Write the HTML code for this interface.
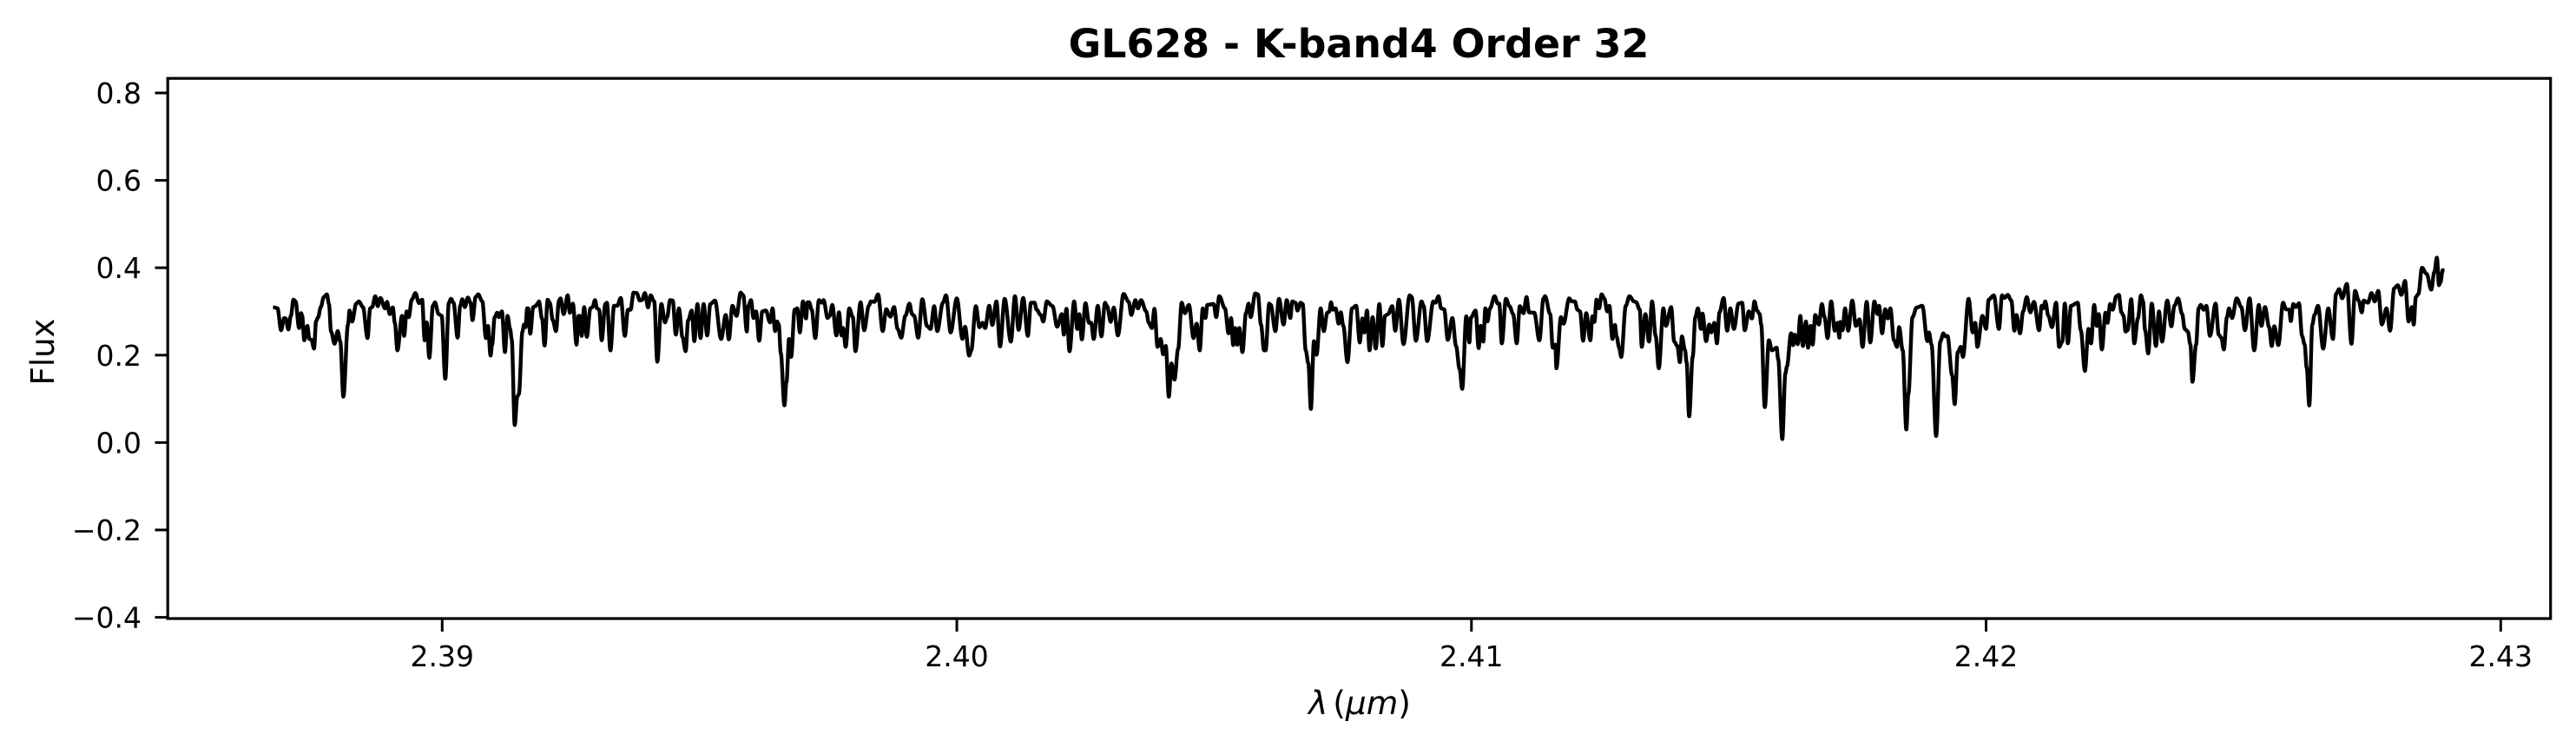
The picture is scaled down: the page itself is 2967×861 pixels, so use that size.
<!DOCTYPE html>
<html lang="en">
<head>
<meta charset="utf-8">
<title>GL628 - K-band4 Order 32</title>
<style>
html,body{margin:0;padding:0;background:#fff;}
body{width:2967px;height:861px;overflow:hidden;}
svg{display:block;font-family:"DejaVu Sans","Liberation Sans",sans-serif;}
</style>
</head>
<body>
<svg id="chart" xmlns="http://www.w3.org/2000/svg" width="2967" height="861" viewBox="0 0 2967 861">
<rect x="0" y="0" width="2967" height="861" fill="#ffffff"/>
<text x="1565" y="66" text-anchor="middle" font-size="45.83" font-weight="700" fill="#000">GL628 - K-band4 Order 32</text>
<text x="1566" y="822" text-anchor="middle" font-size="37.5" fill="#000"><tspan font-style="italic">λ</tspan><tspan dx="6">(</tspan><tspan font-style="italic">μm</tspan><tspan>)</tspan></text>
<text transform="translate(62,405) rotate(-90)" text-anchor="middle" font-size="37" fill="#000">Flux</text>
<g id="ticks"></g>
<path id="trace" fill="none" stroke="#000" stroke-width="4.4" stroke-linejoin="round" stroke-linecap="square"/>
<rect x="193.2" y="90.2" width="2744.5" height="621.8" fill="none" stroke="#000" stroke-width="3.2"/>
</svg>
<script>
const xTickValues = [2.39, 2.40, 2.41, 2.42, 2.43];
const xTickLabels = ["2.39", "2.40", "2.41", "2.42", "2.43"];
const yTickValues = [-0.4, -0.2, 0.0, 0.2, 0.4, 0.6, 0.8];
const yTickLabels = ["\u22120.4", "\u22120.2", "0.0", "0.2", "0.4", "0.6", "0.8"];
const wavelength = [
2.38675,2.38680,2.38687,2.38693,2.38696,2.38701,2.38706,2.38711,2.38715,2.38722,
2.38726,2.38728,2.38732,2.38738,2.38742,2.38746,2.38751,2.38755,2.38759,2.38764,
2.38770,2.38776,2.38780,2.38784,2.38791,2.38797,2.38802,2.38808,2.38817,2.38820,
2.38825,2.38833,2.38838,2.38846,2.38855,2.38860,2.38864,2.38870,2.38875,2.38880,
2.38889,2.38893,2.38898,2.38904,2.38908,2.38913,2.38922,2.38926,2.38931,2.38935,
2.38941,2.38948,2.38955,2.38961,2.38966,2.38970,2.38975,2.38982,2.38986,2.38993,
2.38999,2.39006,2.39013,2.39017,2.39022,2.39030,2.39035,2.39039,2.39044,2.39050,
2.39055,2.39059,2.39065,2.39070,2.39078,2.39085,2.39089,2.39094,2.39097,2.39102,
2.39107,2.39110,2.39116,2.39122,2.39127,2.39132,2.39135,2.39141,2.39146,2.39149,
2.39156,2.39159,2.39162,2.39165,2.39167,2.39171,2.39177,2.39181,2.39185,2.39188,
2.39194,2.39199,2.39205,2.39209,2.39215,2.39221,2.39227,2.39230,2.39236,2.39244,
2.39248,2.39254,2.39261,2.39265,2.39267,2.39271,2.39276,2.39281,2.39288,2.39292,
2.39297,2.39301,2.39305,2.39310,2.39317,2.39320,2.39327,2.39334,2.39340,2.39347,
2.39355,2.39361,2.39366,2.39372,2.39378,2.39384,2.39388,2.39394,2.39400,2.39405,
2.39412,2.39418,2.39426,2.39433,2.39437,2.39443,2.39448,2.39454,2.39460,2.39467,
2.39473,2.39478,2.39485,2.39490,2.39496,2.39502,2.39508,2.39515,2.39521,2.39530,
2.39542,2.39551,2.39557,2.39564,2.39572,2.39580,2.39585,
2.39592,2.39595,2.39600,2.39605,2.39610,2.39616,2.39622,2.39629,2.39637,2.39642,
2.39647,2.39651,2.39654,2.39658,2.39665,2.39669,2.39674,2.39678,2.39685,2.39690,
2.39695,2.39701,2.39707,2.39710,2.39713,2.39718,2.39725,2.39732,2.39738,2.39741,
2.39749,2.39753,2.39758,2.39766,2.39771,2.39776,2.39779,2.39784,2.39791,2.39798,
2.39803,2.39813,2.39820,2.39829,2.39833,2.39840,2.39847,2.39856,2.39863,2.39871,
2.39878,2.39885,2.39892,2.39900,2.39908,2.39913,2.39917,2.39925,2.39933,2.39942,
2.39949,2.39956,2.39962,2.39973,2.39979,2.39988,2.40000,2.40011,2.40016,2.40024,
2.40028,2.40037,2.40044,2.40050,2.40055,2.40063,2.40069,2.40077,2.40084,2.40093,
2.40105,2.40113,2.40120,2.40129,2.40138,2.40144,2.40151,2.40155,2.40163,2.40168,
2.40175,2.40186,2.40195,2.40204,2.40208,2.40213,2.40219,2.40228,2.40234,2.40238,
2.40243,2.40250,2.40257,2.40261,2.40266,2.40274,2.40281,2.40288,2.40292,2.40299,
2.40305,2.40313,2.40324,2.40334,2.40339,2.40347,2.40352,2.40358,2.40368,2.40373,
2.40379,2.40384,2.40390,2.40396,2.40401,2.40406,2.40412,2.40417,2.40423,2.40430,
2.40437,2.40443,2.40451,2.40460,2.40466,2.40472,2.40478,2.40483,2.40487,2.40499,
2.40504,2.40510,2.40521,2.40528,2.40533,2.40537,2.40541,2.40545,2.40549,2.40555,
2.40562,2.40567,
2.40571,2.40580,2.40585,2.40591,2.40597,2.40600,2.40607,2.40610,2.40619,2.40626,
2.40635,2.40641,2.40648,2.40652,2.40658,2.40662,2.40668,2.40672,2.40678,2.40683,
2.40688,2.40694,2.40699,2.40707,2.40713,2.40720,2.40724,2.40727,2.40731,2.40736,
2.40742,2.40746,2.40751,2.40759,2.40768,2.40776,2.40783,2.40788,2.40792,2.40797,
2.40802,2.40808,2.40814,2.40821,2.40827,2.40832,2.40838,2.40846,2.40852,2.40859,
2.40868,2.40880,2.40884,2.40892,2.40903,2.40907,2.40914,2.40926,2.40930,2.40936,
2.40941,2.40947,2.40954,2.40963,2.40970,2.40977,2.40982,2.40990,2.40996,2.40999,
2.41008,2.41014,2.41018,2.41023,2.41027,2.41031,2.41036,2.41045,2.41051,2.41054,
2.41059,2.41067,2.41074,2.41081,2.41088,2.41094,2.41101,2.41107,2.41112,2.41122,
2.41132,2.41140,2.41143,2.41153,2.41158,2.41163,2.41165,2.41174,2.41179,2.41190,
2.41195,2.41201,2.41206,2.41211,2.41217,2.41223,2.41231,2.41235,2.41239,2.41243,
2.41248,2.41253,2.41258,2.41264,2.41268,2.41274,2.41279,2.41282,2.41287,2.41291,
2.41300,2.41307,2.41316,2.41320,2.41327,2.41331,2.41338,2.41345,2.41351,2.41358,
2.41364,2.41373,2.41378,2.41388,2.41394,2.41400,2.41405,2.41409,2.41415,2.41418,
2.41423,2.41430,2.41435,2.41440,2.41446,2.41449,2.41456,2.41462,2.41466,2.41472,
2.41477,2.41482,2.41490,2.41497,2.41503,2.41510,2.41519,2.41526,2.41531,2.41539,
2.41545,2.41550,2.41555,2.41560,2.41563,2.41570,
2.41578,2.41584,2.41593,2.41596,2.41604,2.41610,2.41613,2.41621,2.41625,2.41628,
2.41634,2.41639,2.41644,2.41650,2.41654,2.41659,2.41663,2.41668,2.41675,2.41681,
2.41686,2.41692,2.41699,2.41706,2.41711,2.41715,2.41717,2.41721,2.41726,2.41732,
2.41740,2.41747,2.41754,2.41760,2.41768,2.41775,2.41783,2.41789,2.41792,2.41798,
2.41804,2.41809,2.41814,2.41821,2.41827,2.41831,2.41838,2.41845,2.41849,2.41857,
2.41865,2.41876,2.41886,2.41889,2.41894,2.41903,2.41911,2.41917,2.41921,2.41925,
2.41934,2.41939,2.41945,2.41951,2.41955,2.41966,2.41974,2.41979,2.41983,2.41993,
2.42000,2.42005,2.42015,2.42025,2.42031,2.42036,2.42042,2.42049,2.42055,2.42059,
2.42066,2.42072,2.42079,2.42086,2.42093,2.42103,2.42108,2.42111,2.42115,2.42121,
2.42128,2.42136,2.42142,2.42148,2.42153,2.42159,2.42165,2.42178,2.42184,
2.42192,2.42199,2.42204,2.42210,2.42215,2.42219,2.42225,2.42232,2.42236,2.42241,
2.42246,2.42253,2.42258,2.42263,2.42267,2.42271,2.42275,2.42282,2.42288,2.42295,
2.42301,2.42305,2.42309,2.42315,2.42322,2.42330,2.42336,2.42342,2.42352,2.42360,
2.42366,2.42373,2.42381,2.42386,2.42392,2.42397,2.42401,2.42408,2.42413,2.42417,
2.42423,2.42428,2.42435,2.42446,2.42452,2.42457,2.42462,2.42468,2.42472,2.42478,
2.42487,2.42496,2.42503,2.42512,2.42521,2.42530,2.42535,2.42542,2.42550,2.42555,
2.42560,2.42568,2.42577,2.42583,2.42589,2.42592,2.42597,2.42602,2.42608,2.42614,
2.42619,2.42623,2.42628,2.42634,2.42638,2.42645,2.42655,2.42665,2.42674,2.42680,
2.42686,2.42692,2.42701,2.42710,2.42717,2.42724,2.42730,2.42734,2.42742,2.42749,
2.42755,2.42762,2.42769,2.42778,2.42785,2.42793,2.42800,2.42807,2.42814,2.42821,
2.42827,2.42831,2.42835,2.42840,2.42847,2.42856,2.42865,2.42871,2.42876,2.42880,
2.42883,2.42887
];
const flux = [
.309,.307,.257,.285,.284,.259,.290,.327,.323,.262,
.296,.290,.234,.267,.237,.235,.215,.278,.287,.310,
.333,.339,.317,.254,.226,.255,.231,.105,.270,.302,
.277,.318,.323,.310,.239,.307,.310,.335,.312,.331,
.307,.322,.294,.309,.274,.211,.290,.244,.300,.287,
.327,.342,.319,.327,.234,.275,.194,.313,.321,.294,
.290,.146,.320,.329,.320,.240,.313,.328,.310,.332,
.320,.280,.333,.339,.323,.239,.267,.199,.224,.287,
.297,.287,.300,.207,.290,.260,.237,.040,.105,.111,
.254,.270,.264,.307,.307,.249,.310,.312,.317,.323,
.284,.222,.327,.320,.280,.255,.325,.330,.294,.337,
.297,.318,.224,.290,.290,.244,.310,.242,.307,.310,
.326,.307,.304,.234,.317,.320,.211,.313,.313,.331,
.244,.304,.304,.343,.342,.325,.326,.342,.309,.337,
.323,.185,.317,.275,.287,.326,.325,.247,.307,.241,
.209,.280,.302,.232,.317,.239,.317,.245,.317,.325,
.237,.292,.236,.313,.290,.343,.337,
.254,.313,.326,.285,.300,.233,.300,.302,.275,.307,
.255,.277,.270,.204,.085,.138,.237,.196,.304,.307,
.252,.323,.284,.321,.321,.304,.239,.326,.320,.326,
.285,.290,.315,.245,.298,.245,.262,.219,.307,.287,
.209,.321,.257,.313,.323,.322,.339,.255,.305,.288,
.310,.260,.240,.290,.318,.294,.290,.240,.328,.267,
.260,.312,.255,.320,.337,.252,.330,.237,.265,.199,
.211,.312,.264,.274,.262,.313,.269,.323,.220,.329,
.231,.335,.258,.331,.244,.320,.320,.304,.292,.277,
.323,.312,.265,.294,.247,.306,.209,.323,.260,.294,
.236,.319,.274,.274,.237,.313,.243,.320,.312,.276,
.309,.245,.340,.322,.292,.326,.307,.326,.300,.274,
.262,.306,.219,.237,.202,.221,.105,.181,.144,.214,
.320,.296,.315,.239,.272,.211,.307,.285,.315,.317,
.287,.335,.307,.250,.285,.223,.262,.224,.262,.207,
.297,.318,
.287,.341,.339,.270,.211,.211,.318,.315,.255,.329,
.270,.326,.285,.323,.320,.302,.320,.317,.211,.181,
.077,.232,.201,.307,.255,.297,.300,.321,.304,.307,
.272,.298,.267,.184,.307,.313,.229,.284,.252,.302,
.211,.287,.215,.317,.221,.290,.294,.312,.256,.327,
.225,.337,.333,.233,.323,.313,.232,.323,.320,.335,
.307,.305,.235,.285,.221,.168,.123,.289,.229,.286,
.302,.216,.267,.231,.307,.277,.307,.335,.318,.318,
.227,.329,.312,.294,.227,.312,.296,.333,.298,.297,
.234,.330,.335,.294,.217,.224,.170,.287,.272,.330,
.323,.323,.304,.300,.233,.296,.234,.289,.276,.327,
.307,.339,.330,.300,.313,.237,.269,.243,.217,.196,
.313,.335,.323,.321,.304,.219,.294,.231,.323,.244,
.170,.307,.267,.310,.231,.221,.184,.243,.211,.184,
.060,.197,.287,.307,.260,.295,.232,.270,.252,.274,
.227,.298,.331,.256,.307,.260,.318,.320,.257,.300,
.284,.323,.302,.294,.270,.081,
.234,.211,.217,.191,.008,.158,.174,.250,.223,.247,
.225,.290,.221,.277,.217,.267,.224,.292,.270,.317,
.287,.239,.323,.256,.274,.240,.276,.257,.307,.256,
.325,.267,.282,.219,.322,.229,.323,.294,.313,.250,
.305,.284,.307,.234,.219,.264,.211,.030,.111,.287,
.309,.313,.232,.252,.224,.015,.231,.250,.243,.244,
.154,.088,.207,.219,.196,.329,.252,.274,.219,.290,
.260,.327,.337,.260,.337,.331,.338,.325,.256,.292,
.250,.300,.333,.298,.322,.257,.313,.307,.323,.290,
.264,.320,.219,.231,.318,.227,.313,.320,.257,
.164,.260,.227,.315,.267,.294,.213,.297,.274,.317,
.304,.335,.338,.298,.290,.254,.257,.328,.227,.284,
.337,.323,.257,.204,.318,.221,.300,.231,.325,.266,
.313,.330,.294,.260,.254,.224,.139,.224,.307,.315,
.304,.313,.244,.318,.247,.240,.213,.287,.307,.285,
.330,.310,.257,.330,.211,.315,.267,.310,.264,.221,
.266,.223,.320,.305,.304,.278,.317,.310,.319,.244,
.224,.171,.085,.270,.292,.313,.215,.307,.237,.340,
.351,.330,.363,.226,.347,.325,.298,.325,.320,.342,
.323,.347,.270,.307,.256,.353,.360,.338,.370,.277,
.310,.270,.333,.340,.400,.386,.350,.390,.423,.360,
.367,.394
];

const SVG_NS = "http://www.w3.org/2000/svg";
const xScale = function (w) { return 509.3 + (w - 2.39) * 59275; };
const yScale = function (v) { return 509.4 - v * 503; };

const ticks = document.getElementById("ticks");
xTickValues.forEach(function (v, i) {
  const px = xScale(v);
  const line = document.createElementNS(SVG_NS, "line");
  
  
  line.setAttribute("x1", px);
  line.setAttribute("x2", px);
  line.setAttribute("y1", 712);
  line.setAttribute("y2", 727);
  line.setAttribute("stroke", "#000");
  line.setAttribute("stroke-width", 3);
  ticks.appendChild(line);
  const label = document.createElementNS(SVG_NS, "text");
  
  
  label.setAttribute("x", px);
  label.setAttribute("y", 767);
  label.setAttribute("text-anchor", "middle");
  label.setAttribute("font-size", 33);
  label.setAttribute("fill", "#000");
  label.textContent = xTickLabels[i];
  ticks.appendChild(label);
});
yTickValues.forEach(function (v, i) {
  const py = yScale(v);
  const line = document.createElementNS(SVG_NS, "line");
  
  
  line.setAttribute("x1", 178.5);
  line.setAttribute("x2", 193);
  line.setAttribute("y1", py);
  line.setAttribute("y2", py);
  line.setAttribute("stroke", "#000");
  line.setAttribute("stroke-width", 3);
  ticks.appendChild(line);
  const label = document.createElementNS(SVG_NS, "text");
  
  
  label.setAttribute("x", 163);
  label.setAttribute("y", py + 12);
  label.setAttribute("text-anchor", "end");
  label.setAttribute("font-size", 33);
  label.setAttribute("fill", "#000");
  label.textContent = yTickLabels[i];
  ticks.appendChild(label);
});

const count = Math.min(wavelength.length, flux.length);
let d = "M" + xScale(wavelength[0]).toFixed(2) + " " + yScale(flux[0]).toFixed(2);
for (let i = 1; i < count; i++) {
  const x0 = xScale(wavelength[i - 1]);
  const x1 = xScale(wavelength[i]);
  const y0 = yScale(flux[i - 1]);
  const y1 = yScale(flux[i]);
  const bend = (x1 - x0) * 0.35;
  d += "C" + (x0 + bend).toFixed(2) + " " + y0.toFixed(2) + " " + (x1 - bend).toFixed(2) + " " + y1.toFixed(2) + " " + x1.toFixed(2) + " " + y1.toFixed(2);
}
document.getElementById("trace").setAttribute("d", d);
</script>
</body>
</html>
